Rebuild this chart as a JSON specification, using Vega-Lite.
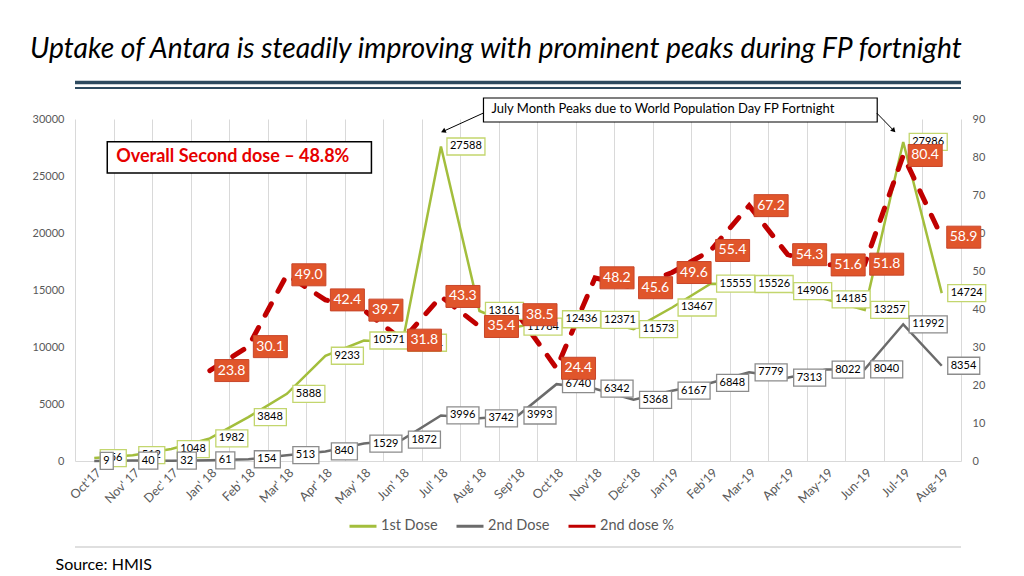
{
  "$schema": "https://vega.github.io/schema/vega-lite/v6.json",
  "width": 886,
  "height": 342,
  "autosize": {"type": "none"},
  "padding": {"left": 75, "top": 119, "right": 63, "bottom": 115},
  "background": "white",
  "config": {"view": {"stroke": null}, "font": "Lato"},
  "title": {
    "text": "Uptake of Antara is steadily improving with prominent peaks during FP fortnight",
    "anchor": "start",
    "frame": "group",
    "font": "Lato",
    "fontSize": 28.3,
    "fontStyle": "italic",
    "fontWeight": "normal",
    "color": "#000000",
    "dx": -45,
    "offset": 16
  },
  "datasets": {
    "main": [
      {"month": "Oct'17", "d1": 256, "d2": 9, "pct": null},
      {"month": "Nov' 17", "d1": 512, "d2": 40, "pct": null},
      {"month": "Dec' 17", "d1": 1048, "d2": 32, "pct": null},
      {"month": "Jan' 18", "d1": 1982, "d2": 61, "pct": 23.8},
      {"month": "Feb' 18", "d1": 3848, "d2": 154, "pct": 30.1},
      {"month": "Mar' 18", "d1": 5888, "d2": 513, "pct": 49.0},
      {"month": "Apr' 18", "d1": 9233, "d2": 840, "pct": 42.4},
      {"month": "May' 18", "d1": 10571, "d2": 1529, "pct": 39.7},
      {"month": "Jun' 18", "d1": 10371, "d2": 1872, "pct": 31.8},
      {"month": "Jul' 18", "d1": 27588, "d2": 3996, "pct": 43.3},
      {"month": "Aug' 18", "d1": 13161, "d2": 3742, "pct": 35.4},
      {"month": "Sep'18", "d1": 11784, "d2": 3993, "pct": 38.5},
      {"month": "Oct'18", "d1": 12436, "d2": 6740, "pct": 24.4},
      {"month": "Nov'18", "d1": 12371, "d2": 6342, "pct": 48.2},
      {"month": "Dec'18", "d1": 11573, "d2": 5368, "pct": 45.6},
      {"month": "Jan'19", "d1": 13467, "d2": 6167, "pct": 49.6},
      {"month": "Feb'19", "d1": 15555, "d2": 6848, "pct": 55.4},
      {"month": "Mar-19", "d1": 15526, "d2": 7779, "pct": 67.2},
      {"month": "Apr-19", "d1": 14906, "d2": 7313, "pct": 54.3},
      {"month": "May-19", "d1": 14185, "d2": 8022, "pct": 51.6},
      {"month": "Jun-19", "d1": 13257, "d2": 8040, "pct": 51.8},
      {"month": "Jul-19", "d1": 27986, "d2": 11992, "pct": 80.4},
      {"month": "Aug-19", "d1": 14724, "d2": 8354, "pct": 58.9}
    ],
    "notes": [{"k": 1}]
  },
  "data": {"name": "main"},
  "layer": [
    {
      "mark": {"type": "line", "strokeWidth": 2.5},
      "encoding": {
        "x": {
          "field": "month",
          "type": "nominal",
          "scale": {
            "domain": ["Oct'17", "Nov' 17", "Dec' 17", "Jan' 18", "Feb' 18", "Mar' 18", "Apr' 18", "May' 18", "Jun' 18", "Jul' 18", "Aug' 18", "Sep'18", "Oct'18", "Nov'18", "Dec'18", "Jan'19", "Feb'19", "Mar-19", "Apr-19", "May-19", "Jun-19", "Jul-19", "Aug-19"],
            "paddingInner": 0,
            "paddingOuter": 0
          },
          "axis": {
            "orient": "bottom",
            "grid": true,
            "gridColor": "#D9D9D9",
            "gridWidth": 1,
            "tickBand": "extent",
            "ticks": false,
            "domain": true,
            "domainColor": "#D9D9D9",
            "labelAngle": -45,
            "labelAlign": "right",
            "labelBaseline": "top",
            "labelFontSize": 12.5,
            "labelColor": "#595959",
            "labelPadding": 5,
            "labelFont": "Lato",
            "title": "Source: HMIS",
            "titleAnchor": "start",
            "titleAlign": "left",
            "titleBaseline": "alphabetic",
            "titleX": -20,
            "titleY": 108,
            "titleFontSize": 16,
            "titleFontWeight": "normal",
            "titleColor": "#000000",
            "titleFont": "Lato"
          }
        },
        "y": {"field": "d1", "type": "quantitative", "scale": {"domain": [0, 30000], "nice": false},
          "axis": {"orient": "left", "values": [0, 5000, 10000, 15000, 20000, 25000, 30000], "format": "d", "grid": false, "domain": false, "ticks": false, "labelColor": "#595959", "labelFontSize": 11, "labelPadding": 11, "title": null}},
        "color": {"datum": "1st Dose", "type": "nominal",
          "scale": {"domain": ["1st Dose", "2nd Dose", "2nd dose %"], "range": ["#A3BE3C", "#6B6B6B", "#C00000"]},
          "legend": {"orient": "none", "legendX": 273, "legendY": 392, "direction": "horizontal", "title": null, "symbolType": "stroke", "symbolStrokeWidth": 3, "symbolSize": 729, "labelFontSize": 14.5, "labelColor": "#595959", "labelFont": "Lato", "columnPadding": 12, "labelOffset": 3, "padding": 0}}
      }
    },
    {
      "mark": {"type": "line", "strokeWidth": 2.5},
      "encoding": {
        "x": {"field": "month", "type": "nominal"},
        "y": {"field": "d2", "type": "quantitative", "scale": {"domain": [0, 30000], "nice": false}, "axis": null},
        "color": {"datum": "2nd Dose", "type": "nominal"}
      }
    },
    {
      "transform": [{"filter": "datum.pct != null"}],
      "mark": {"type": "line", "strokeWidth": 5, "strokeDash": [13, 14], "strokeCap": "round"},
      "encoding": {
        "x": {"field": "month", "type": "nominal"},
        "y": {"field": "pct", "type": "quantitative", "scale": {"domain": [0, 90], "nice": false},
          "axis": {"orient": "right", "values": [0, 10, 20, 30, 40, 50, 60, 70, 80, 90], "grid": false, "domain": false, "ticks": false, "labelColor": "#595959", "labelFontSize": 11, "labelPadding": 11, "title": null}},
        "color": {"datum": "2nd dose %", "type": "nominal"}
      }
    },
    {
      "mark": {"type": "point", "filled": true, "fill": "white", "stroke": "#C3D66E", "strokeWidth": 1.3, "size": 4, "opacity": 1},
      "encoding": {
        "x": {"field": "month", "type": "nominal"},
        "y": {"field": "d1", "type": "quantitative", "scale": {"domain": [0, 30000], "nice": false}, "axis": null},
        "shape": {
          "condition": [
            {"test": "datum.d1 >= 10000", "value": "M6,-8.5H44V8.5H6Z"},
            {"test": "datum.d1 >= 1000", "value": "M6,-8.5H38V8.5H6Z"},
            {"test": "datum.d1 >= 100", "value": "M6,-8.5H32V8.5H6Z"}
          ],
          "value": "M6,-8.5H25V8.5H6Z"
        }
      }
    },
    {
      "mark": {"type": "text", "align": "left", "baseline": "middle", "dx": 9, "fontSize": 11, "color": "#000000"},
      "encoding": {
        "x": {"field": "month", "type": "nominal"},
        "y": {"field": "d1", "type": "quantitative", "scale": {"domain": [0, 30000], "nice": false}, "axis": null},
        "text": {"field": "d1", "type": "quantitative", "format": "d"}
      }
    },
    {
      "mark": {"type": "point", "filled": true, "fill": "white", "stroke": "#8C8C8C", "strokeWidth": 1.3, "size": 4, "opacity": 1},
      "encoding": {
        "x": {"field": "month", "type": "nominal"},
        "y": {"field": "d2", "type": "quantitative", "scale": {"domain": [0, 30000], "nice": false}, "axis": null},
        "shape": {
          "condition": [
            {"test": "datum.d2 >= 10000", "value": "M6,-8.5H44V8.5H6Z"},
            {"test": "datum.d2 >= 1000", "value": "M6,-8.5H38V8.5H6Z"},
            {"test": "datum.d2 >= 100", "value": "M6,-8.5H32V8.5H6Z"},
            {"test": "datum.d2 >= 10", "value": "M6,-8.5H25V8.5H6Z"}
          ],
          "value": "M6,-8.5H19V8.5H6Z"
        }
      }
    },
    {
      "mark": {"type": "text", "align": "left", "baseline": "middle", "dx": 9, "fontSize": 11, "color": "#000000"},
      "encoding": {
        "x": {"field": "month", "type": "nominal"},
        "y": {"field": "d2", "type": "quantitative", "scale": {"domain": [0, 30000], "nice": false}, "axis": null},
        "text": {"field": "d2", "type": "quantitative", "format": "d"}
      }
    },
    {
      "transform": [{"filter": "datum.pct != null"}],
      "mark": {"type": "point", "filled": true, "fill": "#E0552B", "stroke": "#C8462A", "strokeWidth": 1, "size": 4, "opacity": 1, "shape": "M5,-11H39V11H5Z"},
      "encoding": {
        "x": {"field": "month", "type": "nominal"},
        "y": {"field": "pct", "type": "quantitative", "scale": {"domain": [0, 90], "nice": false}, "axis": null}
      }
    },
    {
      "transform": [{"filter": "datum.pct != null"}],
      "mark": {"type": "text", "align": "left", "baseline": "middle", "dx": 8, "fontSize": 14, "color": "#FFFFFF"},
      "encoding": {
        "x": {"field": "month", "type": "nominal"},
        "y": {"field": "pct", "type": "quantitative", "scale": {"domain": [0, 90], "nice": false}, "axis": null},
        "text": {"field": "pct", "type": "quantitative", "format": ".1f"}
      }
    },
    {
      "data": {"name": "notes"},
      "mark": {"type": "rule", "color": "#2E4B60", "strokeWidth": 3.5},
      "encoding": {
        "y": {"datum": 33200, "type": "quantitative", "scale": {"domain": [0, 30000], "nice": false}, "axis": null}
      }
    },
    {
      "data": {"name": "notes"},
      "mark": {"type": "rule", "color": "#2E4B60", "strokeWidth": 2},
      "encoding": {
        "y": {"datum": 32719, "type": "quantitative", "scale": {"domain": [0, 30000], "nice": false}, "axis": null}
      }
    },
    {
      "data": {"name": "notes"},
      "mark": {"type": "rule", "color": "#BFBFBF", "strokeWidth": 1},
      "encoding": {
        "y": {"datum": -7544, "type": "quantitative", "scale": {"domain": [0, 30000], "nice": false}, "axis": null}
      }
    },
    {
      "data": {"name": "notes"},
      "mark": {"type": "rect", "fill": "white", "stroke": "#000000", "strokeWidth": 1.5, "xOffset": 13, "x2Offset": -31},
      "encoding": {
        "x": {"datum": "Oct'17", "type": "nominal"},
        "x2": {"datum": "Jun' 18"},
        "y": {"datum": 28000, "type": "quantitative", "scale": {"domain": [0, 30000], "nice": false}, "axis": null},
        "y2": {"datum": 25260}
      }
    },
    {
      "data": {"name": "notes"},
      "mark": {"type": "text", "align": "left", "baseline": "middle", "dx": 22, "fontSize": 18, "fontWeight": "bold", "color": "#E60000"},
      "encoding": {
        "x": {"datum": "Oct'17", "type": "nominal"},
        "y": {"datum": 26667, "type": "quantitative", "scale": {"domain": [0, 30000], "nice": false}, "axis": null},
        "text": {"value": "Overall Second dose – 48.8%"}
      }
    },
    {
      "data": {"name": "notes"},
      "mark": {"type": "rect", "fill": "white", "stroke": "#000000", "strokeWidth": 1.2, "xOffset": 4, "x2Offset": -26},
      "encoding": {
        "x": {"datum": "Aug' 18", "type": "nominal"},
        "x2": {"datum": "Jul-19"},
        "y": {"datum": 31842, "type": "quantitative", "scale": {"domain": [0, 30000], "nice": false}, "axis": null},
        "y2": {"datum": 29737}
      }
    },
    {
      "data": {"name": "notes"},
      "mark": {"type": "text", "align": "left", "baseline": "middle", "dx": 12, "fontSize": 13, "color": "#000000"},
      "encoding": {
        "x": {"datum": "Aug' 18", "type": "nominal"},
        "y": {"datum": 30877, "type": "quantitative", "scale": {"domain": [0, 30000], "nice": false}, "axis": null},
        "text": {"value": "July Month Peaks due to World Population Day FP Fortnight"}
      }
    },
    {
      "data": {"name": "notes"},
      "mark": {"type": "rule", "color": "#000000", "strokeWidth": 1, "xOffset": 4, "x2Offset": 3},
      "encoding": {
        "x": {"datum": "Aug' 18", "type": "nominal"},
        "x2": {"datum": "Jul' 18"},
        "y": {"datum": 30526, "type": "quantitative", "scale": {"domain": [0, 30000], "nice": false}, "axis": null},
        "y2": {"datum": 28947}
      }
    },
    {
      "data": {"name": "notes"},
      "mark": {"type": "rule", "color": "#000000", "strokeWidth": 1, "xOffset": 12, "x2Offset": -10},
      "encoding": {
        "x": {"datum": "Jun-19", "type": "nominal"},
        "x2": {"datum": "Jul-19"},
        "y": {"datum": 30526, "type": "quantitative", "scale": {"domain": [0, 30000], "nice": false}, "axis": null},
        "y2": {"datum": 29035}
      }
    },
    {
      "data": {"name": "notes"},
      "mark": {"type": "point", "shape": "triangle", "filled": true, "color": "#000000", "size": 30, "angle": 245, "xOffset": 3, "opacity": 1},
      "encoding": {
        "x": {"datum": "Jul' 18", "type": "nominal"},
        "y": {"datum": 28947, "type": "quantitative", "scale": {"domain": [0, 30000], "nice": false}, "axis": null}
      }
    },
    {
      "data": {"name": "notes"},
      "mark": {"type": "point", "shape": "triangle", "filled": true, "color": "#000000", "size": 30, "angle": 137, "xOffset": -10, "opacity": 1},
      "encoding": {
        "x": {"datum": "Jul-19", "type": "nominal"},
        "y": {"datum": 29035, "type": "quantitative", "scale": {"domain": [0, 30000], "nice": false}, "axis": null}
      }
    }
  ],
  "resolve": {"scale": {"y": "independent"}}
}
